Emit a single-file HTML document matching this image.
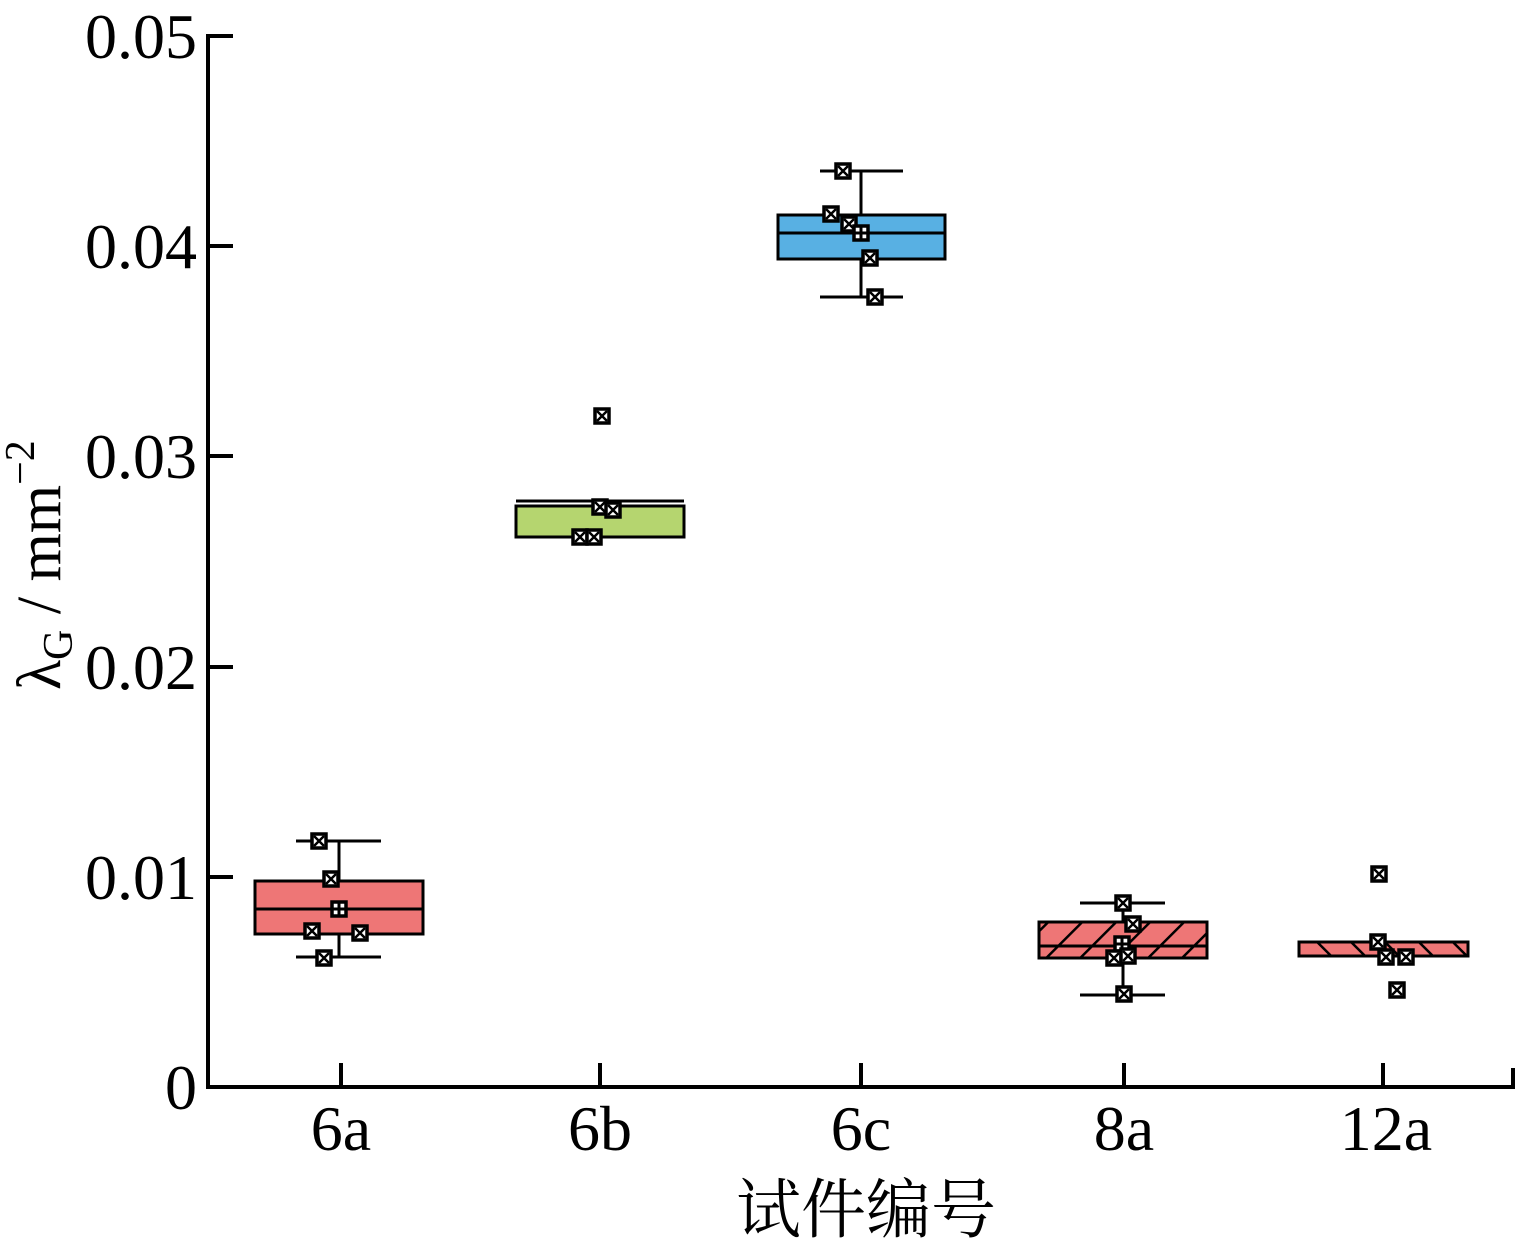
<!DOCTYPE html>
<html><head><meta charset="utf-8"><style>body{margin:0;background:#fff}svg{display:block}</style></head>
<body>
<svg width="1517" height="1251" viewBox="0 0 1517 1251" xmlns="http://www.w3.org/2000/svg">
<defs>
<pattern id="h1" patternUnits="userSpaceOnUse" width="24" height="24" patternTransform="rotate(45)">
<rect width="24" height="24" fill="#ee7676"/><line x1="0" y1="0" x2="0" y2="24" stroke="#000" stroke-width="5"/></pattern>
<pattern id="h2" patternUnits="userSpaceOnUse" width="24" height="24" patternTransform="rotate(-45)">
<rect width="24" height="24" fill="#ee7676"/><line x1="0" y1="0" x2="0" y2="24" stroke="#000" stroke-width="5"/></pattern>
<g id="m"><rect x="-7" y="-7" width="14" height="14" fill="#fff" stroke="#000" stroke-width="3.5"/><path d="M-5,-5L5,5M5,-5L-5,5" stroke="#000" stroke-width="2.5"/></g>
<g id="p"><rect x="-7" y="-7" width="14" height="14" fill="#fff" stroke="#000" stroke-width="3.5"/><path d="M0,-6V6M-6,0H6" stroke="#000" stroke-width="3"/></g>
</defs>
<g font-family="Liberation Serif, serif" font-size="64" fill="#000">
<text x="197" y="58" text-anchor="end">0.05</text>
<text x="197" y="268" text-anchor="end">0.04</text>
<text x="197" y="478" text-anchor="end">0.03</text>
<text x="197" y="689" text-anchor="end">0.02</text>
<text x="197" y="899" text-anchor="end">0.01</text>
<text x="197" y="1109" text-anchor="end">0</text>
<text x="341" y="1150" text-anchor="middle">6a</text>
<text x="600" y="1150" text-anchor="middle">6b</text>
<text x="861" y="1150" text-anchor="middle">6c</text>
<text x="1124" y="1150" text-anchor="middle">8a</text>
<text x="1386" y="1150" text-anchor="middle">12a</text>
<text x="866" y="1232" text-anchor="middle" font-size="65" font-family="Liberation Serif, 'Noto Serif CJK SC', serif">试件编号</text>
<text transform="translate(60,690) rotate(-90)" font-size="62">λ<tspan font-size="42" dy="12">G</tspan><tspan dy="-12"> / mm</tspan><tspan font-size="42" dy="-26">−2</tspan></text>
</g>
<g stroke="#000" stroke-width="4" fill="none">
<path d="M208,34V1087H1513V1068"/>
<path d="M208,36H233M208,246H233M208,456H233M208,667H233M208,877H233"/>
<path d="M341,1087V1063M600,1087V1063M861,1087V1063M1124,1087V1063M1383,1087V1063"/>
</g>
<g stroke="#000" stroke-width="3">
<path d="M339,841V957M296,841H381M296,957H381" fill="none"/>
<rect x="255" y="881" width="168" height="53" fill="#ee7676"/><path d="M255,909H423"/>
<path d="M516,501H684" />
<rect x="516" y="506" width="168" height="31" fill="#b5d56f"/>
<path d="M861,171V297M820,171H903M820,297H903" fill="none"/>
<rect x="778" y="215" width="167" height="44" fill="#58b0e3"/><path d="M778,233H945"/>
<path d="M1123,903V995M1080,903H1165M1080,995H1165" fill="none"/>
<rect x="1039" y="922" width="168" height="36" fill="url(#h1)"/><path d="M1039,946H1207"/>
<rect x="1299" y="942" width="169" height="14" fill="url(#h2)"/>
</g>
<use href="#m" x="319" y="841"/><use href="#m" x="331" y="879"/><use href="#p" x="339" y="909"/><use href="#m" x="312" y="931"/><use href="#m" x="360" y="933"/><use href="#m" x="324" y="958"/>
<use href="#m" x="602" y="416"/><use href="#m" x="600" y="507"/><use href="#m" x="613" y="510"/><use href="#m" x="580" y="537"/><use href="#m" x="594" y="537"/>
<use href="#m" x="843" y="171"/><use href="#m" x="831" y="214"/><use href="#m" x="849" y="224"/><use href="#p" x="861" y="233"/><use href="#m" x="870" y="258"/><use href="#m" x="875" y="297"/>
<use href="#m" x="1123" y="903"/><use href="#m" x="1133" y="924"/><use href="#p" x="1122" y="944"/><use href="#m" x="1114" y="958"/><use href="#m" x="1128" y="956"/><use href="#m" x="1124" y="994"/>
<use href="#m" x="1379" y="874"/><use href="#m" x="1378" y="942"/><use href="#m" x="1386" y="957"/><use href="#m" x="1406" y="957"/><use href="#m" x="1397" y="990"/>
</svg>
</body></html>
